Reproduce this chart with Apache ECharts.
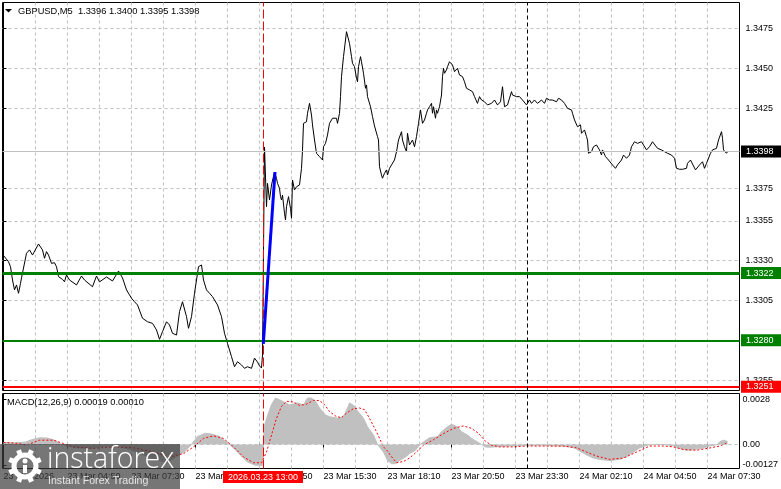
<!DOCTYPE html>
<html>
<head>
<meta charset="utf-8">
<script src="https://cdn.jsdelivr.net/npm/echarts@6/dist/echarts.min.js"></script>
<style>
  html, body { margin: 0; padding: 0; background: #fff; }
  #chart { width: 781px; height: 489px; }
</style>
</head>
<body>
<div id="chart"></div>
<script>
// x values are M5 bar numbers counted from 23 Mar 02:10
const priceBar = [
  -0.5, 2.5, 3.5, 4.5, 5.5, 6.5, 7.5, 8.5, 9, 11.5, 13, 14.5, 17.5, 19.5, 20.5, 21.5, 22.5, 24, 25.5, 26.5,
  27.5, 29.5, 30.5, 31.5, 33, 36.5, 39, 40.5, 44.5, 46.5, 48, 51.5, 54.5, 57.5, 59.5, 61.5, 64, 65.5, 67, 69.5,
  72, 74.5, 76.5, 78, 79.5, 81.5, 83, 84.5, 86.5, 88, 89.5, 91.5, 92.5, 94, 95.5, 97.5, 99, 100, 101.5, 103,
  104.5, 107, 109, 110.5, 112, 114, 115.5, 117, 119, 120.5, 122, 124, 125.5, 127, 128, 129, 129.5, 130.5, 131.5, 132,
  133, 134, 135.5, 136.5, 137, 138, 138.5, 139, 139.5, 140.5, 141, 141.5, 142.5, 143.5, 144, 144.5, 145.5, 146.5, 148, 149,
  149.5, 150, 151.5, 152, 153, 154, 154.5, 155.5, 156.5, 158, 159, 159.5, 160, 161, 162, 163, 164, 164.5, 165.5, 166.5,
  167, 168, 168.5, 169, 170, 171, 171.5, 172.5, 173, 174, 174.5, 175.5, 176.5, 177, 177.5, 178.5, 179, 180, 181, 181.5,
  182, 183.5, 184.5, 185.5, 186.5, 187, 187.5, 188, 189, 189.5, 190.5, 191.5, 192, 193, 194, 194.5, 195.5, 196.5, 197, 197.5,
  199, 199.5, 200.5, 201.5, 202, 203, 204.5, 205.5, 206.5, 207.5, 208.5, 209.5, 210.5, 211.5, 212, 213, 214, 214.5, 215, 216,
  216.5, 217, 218, 219, 219.5, 220, 220.5, 221.5, 222, 223, 224, 224.5, 225.5, 226.5, 227, 228, 229.5, 230.5, 231.5, 233,
  234.5, 235.5, 237, 238, 239, 240.5, 242, 244, 245.5, 247, 248.5, 249.5, 250.5, 251.5, 252, 253, 254, 254.5, 256.5, 258,
  259.5, 261.5, 263, 264, 265.5, 267, 269, 270.5, 271.5, 273, 274.5, 276.5, 277.5, 279, 280.5, 282, 284, 284.5, 285.5, 286.5,
  287, 288.5, 289, 290.5, 291.5, 292, 292.5, 294, 295, 296.5, 298, 299, 299.5, 301, 302.5, 304.5, 306, 307, 309, 310,
  311.5, 312, 313, 314, 314.5, 315.5, 317, 319, 320, 321.5, 323, 324.5, 325.5, 327, 329, 330.5, 332, 334, 335.5, 336.5,
  338, 339.5, 341.5, 342, 343.5, 344.5, 346, 347, 348, 349.5, 350.5, 351.5, 352, 353.5, 354.5, 356.5, 357.5, 359, 359.5, 360,
  361.5, 362
];
const priceVal = [
  1.33338, 1.33291, 1.33260, 1.33177, 1.33115, 1.33146, 1.33094, 1.33156, 1.33190, 1.33344, 1.33365, 1.33333, 1.33402, 1.33365, 1.33313, 1.33354, 1.33333, 1.33281, 1.33285, 1.33260,
  1.33198, 1.33181, 1.33166, 1.33208, 1.33177, 1.33146, 1.33202, 1.33177, 1.33135, 1.33202, 1.33165, 1.33196, 1.33171, 1.33233, 1.33190, 1.33115, 1.33063, 1.33041, 1.33021, 1.32938,
  1.32916, 1.32906, 1.32865, 1.32806, 1.32854, 1.32916, 1.32896, 1.32844, 1.32833, 1.32979, 1.33041, 1.32948, 1.32875, 1.32948, 1.33094, 1.33260, 1.33271, 1.33177, 1.33115, 1.33094,
  1.33073, 1.33021, 1.32948, 1.32844, 1.32781, 1.32698, 1.32635, 1.32666, 1.32646, 1.32625, 1.32635, 1.32625, 1.32689, 1.32664, 1.32640, 1.32627, 1.32708, 1.34008, 1.33635, 1.33781,
  1.33677, 1.33771, 1.33852, 1.33813, 1.33781, 1.33750, 1.33698, 1.33677, 1.33708, 1.33594, 1.33552, 1.33635, 1.33698, 1.33625, 1.33563, 1.33802, 1.33740, 1.33760, 1.33771, 1.33875,
  1.33990, 1.34156, 1.34166, 1.34219, 1.34281, 1.34208, 1.34146, 1.34052, 1.33969, 1.33948, 1.33948, 1.33927, 1.34010, 1.34031, 1.34083, 1.34156, 1.34166, 1.34188, 1.34177, 1.34188,
  1.34156, 1.34219, 1.34323, 1.34448, 1.34573, 1.34677, 1.34729, 1.34719, 1.34656, 1.34573, 1.34531, 1.34510, 1.34438, 1.34416, 1.34510, 1.34573, 1.34541, 1.34469, 1.34375, 1.34396,
  1.34323, 1.34260, 1.34198, 1.34140, 1.34135, 1.34073, 1.34052, 1.33885, 1.33833, 1.33813, 1.33844, 1.33865, 1.33833, 1.33875, 1.33896, 1.33885, 1.33927, 1.33979, 1.33990, 1.34052,
  1.34104, 1.34052, 1.34010, 1.33979, 1.34094, 1.34021, 1.34052, 1.34010, 1.34073, 1.34156, 1.34240, 1.34156, 1.34177, 1.34219, 1.34240, 1.34260, 1.34281, 1.34219, 1.34260, 1.34188,
  1.34240, 1.34219, 1.34260, 1.34333, 1.34448, 1.34500, 1.34469, 1.34490, 1.34510, 1.34541, 1.34546, 1.34521, 1.34479, 1.34490, 1.34500, 1.34458, 1.34448, 1.34416, 1.34375, 1.34365,
  1.34354, 1.34323, 1.34281, 1.34323, 1.34302, 1.34291, 1.34271, 1.34281, 1.34302, 1.34271, 1.34291, 1.34385, 1.34260, 1.34250, 1.34271, 1.34313, 1.34354, 1.34333, 1.34323, 1.34323,
  1.34302, 1.34271, 1.34302, 1.34281, 1.34302, 1.34281, 1.34302, 1.34281, 1.34313, 1.34302, 1.34302, 1.34291, 1.34313, 1.34302, 1.34281, 1.34250, 1.34240, 1.34219, 1.34177, 1.34188,
  1.34135, 1.34146, 1.34094, 1.34115, 1.34073, 1.34052, 1.33969, 1.33979, 1.34010, 1.34021, 1.33990, 1.33958, 1.33990, 1.33948, 1.33927, 1.33896, 1.33875, 1.33896, 1.33927, 1.33958,
  1.33938, 1.33927, 1.33958, 1.34010, 1.34021, 1.34041, 1.34031, 1.34041, 1.34021, 1.33990, 1.34010, 1.34041, 1.34031, 1.34000, 1.33990, 1.33979, 1.33969, 1.33958, 1.33938, 1.33875,
  1.33869, 1.33869, 1.33875, 1.33906, 1.33927, 1.33916, 1.33865, 1.33854, 1.33896, 1.33916, 1.33875, 1.33906, 1.33916, 1.33969, 1.33990, 1.34000, 1.34052, 1.34104, 1.34063, 1.33990,
  1.33969, 1.33979
];

// blue trend line drawn on the chart
const trendBar = [129.9, 135.75];
const trendVal = [1.32778, 1.33852];

// MACD(12,26,9): main line shown as histogram, signal as dotted line
const macdBar = [
  0, 6, 11, 14, 18, 22, 26, 29, 36, 43, 51, 57, 63, 71, 77, 82, 86, 91, 94, 97,
  101, 104, 108, 111, 114, 118, 122, 126, 129.5, 130.5, 132, 134, 136, 138, 141, 143, 147, 150, 152, 154,
  156, 158, 161, 163, 167, 170, 172, 173, 175, 177, 180, 182, 185, 187, 190, 192, 194, 196, 198, 201,
  203, 206, 208, 210, 213, 217, 219, 222, 224, 227, 229, 232, 234, 237, 239, 241, 243, 248, 253, 260,
  268, 280, 283, 286, 288, 292, 295, 298, 303, 308, 312, 315, 318, 322, 325, 330, 335, 338, 342, 345,
  350, 353, 357, 358, 360, 362
];
const macdVal = [
  0.00012, 0.00010, 0.00015, 0.00030, 0.00042, 0.00040, 0.00025, 0.00000, -0.00020, -0.00025, -0.00010, -0.00010, -0.00030, -0.00070, -0.00100, -0.00110, -0.00080, -0.00040, 0.00000, 0.00050,
  0.00070, 0.00065, 0.00050, 0.00020, -0.00010, -0.00060, -0.00110, -0.00130, -0.00130, 0.00120, 0.00180, 0.00250, 0.00290, 0.00280, 0.00260, 0.00248, 0.00260, 0.00248, 0.00290, 0.00290,
  0.00270, 0.00228, 0.00185, 0.00174, 0.00164, 0.00174, 0.00228, 0.00260, 0.00245, 0.00210, 0.00164, 0.00111, 0.00059, 0.00000, -0.00047, -0.00100, -0.00120, -0.00120, -0.00100, -0.00078,
  -0.00057, -0.00036, -0.00004, 0.00016, 0.00042, 0.00048, 0.00080, 0.00111, 0.00126, 0.00111, 0.00080, 0.00059, 0.00038, 0.00016, 0.00000, -0.00015, -0.00017, -0.00013, -0.00010, -0.00004,
  -0.00004, -0.00010, -0.00015, -0.00024, -0.00040, -0.00068, -0.00085, -0.00093, -0.00100, -0.00093, -0.00072, -0.00047, -0.00022, -0.00004, 0.00000, 0.00000, -0.00008, -0.00025, -0.00036, -0.00032,
  -0.00021, -0.00010, 0.00000, 0.00016, 0.00027, 0.00019
];
const signalBar = [
  0, 6.5, 11.5, 18, 25, 30, 35, 45, 55, 65, 75, 83, 90, 95, 100, 105, 110, 115, 120, 125,
  129, 131.5, 134, 136.5, 139, 141.5, 145, 148, 151.5, 155, 158, 160.5, 163, 166.5, 169, 171.5, 175, 178, 180.5, 183,
  186.5, 190, 192.5, 193, 196.5, 200, 203, 206.5, 210, 215, 220, 225, 230, 234, 237.5, 241, 244, 248, 255, 261.5,
  270, 280, 286.5, 291.5, 296.5, 303, 310, 316.5, 323, 330, 335, 340, 346.5, 353, 358, 362
];
const signalVal = [
  0.00013, 0.00008, -0.00004, 0.00027, 0.00027, 0.00006, -0.00015, -0.00024, -0.00015, -0.00021, -0.00047, -0.00078, -0.00057, -0.00015, 0.00038, 0.00054, 0.00038, -0.00015, -0.00078, -0.00114,
  -0.00114, -0.00047, 0.00059, 0.00164, 0.00238, 0.00270, 0.00266, 0.00244, 0.00252, 0.00276, 0.00274, 0.00250, 0.00206, 0.00174, 0.00168, 0.00196, 0.00224, 0.00228, 0.00218, 0.00164,
  0.00080, -0.00015, -0.00047, -0.00060, -0.00114, -0.00106, -0.00085, -0.00047, -0.00004, 0.00030, 0.00068, 0.00101, 0.00116, 0.00101, 0.00070, 0.00020, -0.00004, -0.00015, -0.00015, -0.00009,
  -0.00010, -0.00010, -0.00021, -0.00047, -0.00072, -0.00093, -0.00085, -0.00047, -0.00010, -0.00009, -0.00015, -0.00032, -0.00036, -0.00022, -0.00010, 0.00010
];

// axes
const gridBars = [0, 16, 32, 48, 64, 80, 96, 112, 128, 144, 160, 176, 192, 208, 224, 240, 256, 272, 288, 304, 320, 336, 352];
const timeBars = [0, 32, 64, 96, 128, 160, 192, 224, 256, 288, 320, 352];
const timeLabels = ["23 Mar 2026", "23 Mar 04:50", "23 Mar 07:30", "23 Mar 10:10", "23 Mar 12:50", "23 Mar 15:30",
  "23 Mar 18:10", "23 Mar 20:50", "23 Mar 23:30", "24 Mar 02:10", "24 Mar 04:50", "24 Mar 07:30"];
const priceTicks = [1.3475, 1.3450, 1.3425, 1.3375, 1.33546, 1.3330, 1.3305, 1.3255];
const priceTickLabels = ["1.3475", "1.3450", "1.3425", "1.3375", "1.3355", "1.3330", "1.3305", "1.3255"];
const macdTicks = [0.0028, 0, -0.00127];
const macdTickLabels = ["0.0028", "0.00", "-0.00127"];
const priceRange = [1.324864, 1.349113];
const macdRange = [-0.0015, 0.0031875];

// horizontal levels and vertical markers
const levelValues = [1.3398, 1.3322, 1.3280, 1.3251];
const levelLabels = ["1.3398", "1.3322", "1.3280", "1.3251"];
const cursorBar = 130;   // 23 Mar 13:00
const dayBar = 262;      // 24 Mar 00:00
const cursorLabel = "2026.03.23 13:00";
const titleText = "GBPUSD,M5  1.3396 1.3400 1.3395 1.3398";
const macdTitle = "MACD(12,26,9) 0.00019 0.00010";

const FONT = "Liberation Sans";
const GRID_GREY = "#c0c0c0";
const levelStyles = [
  { color: "#c0c0c0", width: 1, box: "#000000" },
  { color: "#008000", width: 3, box: "#008000" },
  { color: "#008000", width: 2, box: "#008000" },
  { color: "#ff0000", width: 2, box: "#ff0000" },
];
const cursorLine = { color: "#ff0000", width: 1, type: [9, 3] };
const dayLine = { color: "#000000", width: 1, type: [4, 3] };

const zip = (xs, ys) => xs.map((x, i) => [x, ys[i]]);

const levelMarks = levelValues.map((v, i) => ({
  yAxis: v,
  lineStyle: { color: levelStyles[i].color, width: levelStyles[i].width, type: "solid" },
  label: {
    show: true,
    position: "end",
    distance: 1.5,
    formatter: levelLabels[i],
    color: "#fff",
    backgroundColor: levelStyles[i].box,
    fontFamily: FONT,
    fontSize: 9,
    padding: [2, 8, 1, 5],
  },
}));

// a vertical marker spanning a whole panel, drawn as a plain line series
function vline(bar, range, style, panel) {
  return {
    type: "line", xAxisIndex: panel === 0 ? 0 : 1, yAxisIndex: panel,
    data: [[bar, range[0]], [bar, range[1]]],
    symbol: "none", silent: true,
    lineStyle: style, z: 5,
  };
}

const chart = echarts.init(document.getElementById("chart"));

const gearTeeth = [0, 1, 2, 3, 4, 5, 6, 7].map((k) => {
  const a = (k * Math.PI) / 4 + Math.PI / 8;
  return {
    type: "line",
    shape: { x1: 25 + 12 * Math.cos(a), y1: 466 + 12 * Math.sin(a), x2: 25 + 17 * Math.cos(a), y2: 466 + 17 * Math.sin(a) },
    style: { stroke: "#fff", lineWidth: 5 },
    z: 101,
  };
});

const markBase = { symbol: ["none", "none"], silent: true, animation: false, precision: 5, label: { show: false } };

chart.setOption({
  animation: false,
  backgroundColor: "#fff",
  grid: [
    { left: 2.5, right: 41.5, top: 2.5, height: 388, show: true, borderColor: "#000", borderWidth: 1, outerBoundsMode: "none" },
    { left: 2.5, right: 41.5, top: 393.5, height: 75, show: true, borderColor: "#000", borderWidth: 1, outerBoundsMode: "none" },
  ],
  xAxis: [
    {
      gridIndex: 0, type: "value", min: -0.5, max: 368,
      axisLine: { show: false },
      axisTick: { show: false, customValues: gridBars },
      axisLabel: { show: false },
      splitLine: { show: true, lineStyle: { color: GRID_GREY, type: [3, 3] } },
    },
    {
      gridIndex: 1, type: "value", min: -0.5, max: 368, position: "bottom",
      axisLine: { show: false },
      axisTick: { show: true, customValues: timeBars, length: 3, lineStyle: { color: "#000" } },
      axisLabel: {
        customValues: timeBars,
        formatter: (v) => timeLabels[timeBars.indexOf(v)],
        align: "left",
        margin: 4,
        color: "#000",
        fontFamily: FONT,
        fontSize: 9,
      },
      splitLine: { show: false },
    },
    {
      gridIndex: 1, type: "value", min: -0.5, max: 368, position: "top",
      axisLine: { show: false },
      axisTick: { show: false, customValues: gridBars },
      axisLabel: { show: false },
      splitLine: { show: true, lineStyle: { color: GRID_GREY, type: [3, 3] } },
    },
  ],
  yAxis: [
    {
      gridIndex: 0, type: "value", position: "right", min: priceRange[0], max: priceRange[1],
      axisLine: { show: true, lineStyle: { color: "#000" } },
      axisTick: { show: true, customValues: priceTicks, length: 3, lineStyle: { color: "#000" } },
      axisLabel: {
        customValues: priceTicks,
        formatter: (v) => priceTickLabels[priceTicks.indexOf(v)],
        margin: 6,
        color: "#000",
        fontFamily: FONT,
        fontSize: 9,
      },
      splitLine: { show: true, lineStyle: { color: GRID_GREY, type: [3, 3] } },
    },
    {
      gridIndex: 1, type: "value", position: "right", min: macdRange[0], max: macdRange[1],
      axisLine: { show: true, lineStyle: { color: "#000" } },
      axisTick: { show: true, customValues: macdTicks, length: 3, lineStyle: { color: "#000" } },
      axisLabel: {
        customValues: macdTicks,
        formatter: (v) => macdTickLabels[macdTicks.indexOf(v)],
        margin: 3,
        color: "#000",
        fontFamily: FONT,
        fontSize: 9,
      },
      splitLine: { show: false },
    },
  ],
  series: [
    {
      name: "GBPUSD", type: "line", xAxisIndex: 0, yAxisIndex: 0,
      data: zip(priceBar, priceVal),
      symbol: "none",
      lineStyle: { color: "#000", width: 1 },
      markLine: { ...markBase, data: levelMarks },
    },
    {
      name: "Trend", type: "line", xAxisIndex: 0, yAxisIndex: 0,
      data: zip(trendBar, trendVal),
      symbol: "none",
      lineStyle: { color: "#0000ff", width: 3 },
      z: 6,
    },
    {
      name: "MACD", type: "line", xAxisIndex: 1, yAxisIndex: 1,
      data: zip(macdBar, macdVal),
      symbol: "none",
      lineStyle: { color: GRID_GREY, width: 1 },
      areaStyle: { color: GRID_GREY, opacity: 1 },
      markLine: { ...markBase, data: [{ yAxis: 0, lineStyle: { color: GRID_GREY, width: 1, type: [3, 3] } }] },
    },
    {
      name: "Signal", type: "line", xAxisIndex: 1, yAxisIndex: 1,
      data: zip(signalBar, signalVal),
      symbol: "none",
      lineStyle: { color: "#ff0000", width: 1, type: [2, 2] },
    },
    vline(cursorBar, priceRange, cursorLine, 0),
    vline(dayBar, priceRange, dayLine, 0),
    vline(cursorBar, macdRange, cursorLine, 1),
    vline(dayBar, macdRange, dayLine, 1),
  ],
  graphic: [
    { type: "polygon", shape: { points: [[5, 9], [12, 9], [8.5, 12.5]] }, style: { fill: "#000" }, z: 100 },
    { type: "text", x: 18, y: 11, style: { text: titleText, fill: "#000", fontFamily: FONT, fontSize: 9.3, verticalAlign: "middle" }, z: 100 },
    { type: "text", x: 7, y: 402, style: { text: macdTitle, fill: "#000", fontFamily: FONT, fontSize: 9.3, verticalAlign: "middle" }, z: 100 },
    { type: "rect", shape: { x: 223, y: 471, width: 80, height: 12 }, style: { fill: "#ff0000" }, z: 100 },
    { type: "text", x: 263, y: 477.5, style: { text: cursorLabel, fill: "#fff", fontFamily: FONT, fontSize: 9, align: "center", verticalAlign: "middle" }, z: 101 },
    { type: "rect", shape: { x: 0, y: 444, width: 180, height: 45 }, style: { fill: "rgba(60,60,60,0.7)" }, z: 100 },
    { type: "circle", shape: { cx: 25, cy: 466, r: 11 }, style: { fill: "none", stroke: "#fff", lineWidth: 5 }, z: 101 },
    ...gearTeeth,
    { type: "circle", shape: { cx: 25, cy: 461, r: 2.5 }, style: { fill: "#fff" }, z: 101 },
    { type: "rect", shape: { x: 23, y: 465, width: 4, height: 8 }, style: { fill: "#fff" }, z: 101 },
    { type: "text", x: 47, y: 474, style: { text: "instaforex", fill: "#fff", fontFamily: "Open Sans", fontWeight: 300, fontSize: 28.5, verticalAlign: "bottom" }, z: 101 },
    { type: "text", x: 48, y: 481, style: { text: "Instant Forex Trading", fill: "#e6e6e6", fontFamily: FONT, fontSize: 10.6, verticalAlign: "middle" }, z: 101 },
  ],
});

window.addEventListener("resize", () => chart.resize());
</script>
</body>
</html>
